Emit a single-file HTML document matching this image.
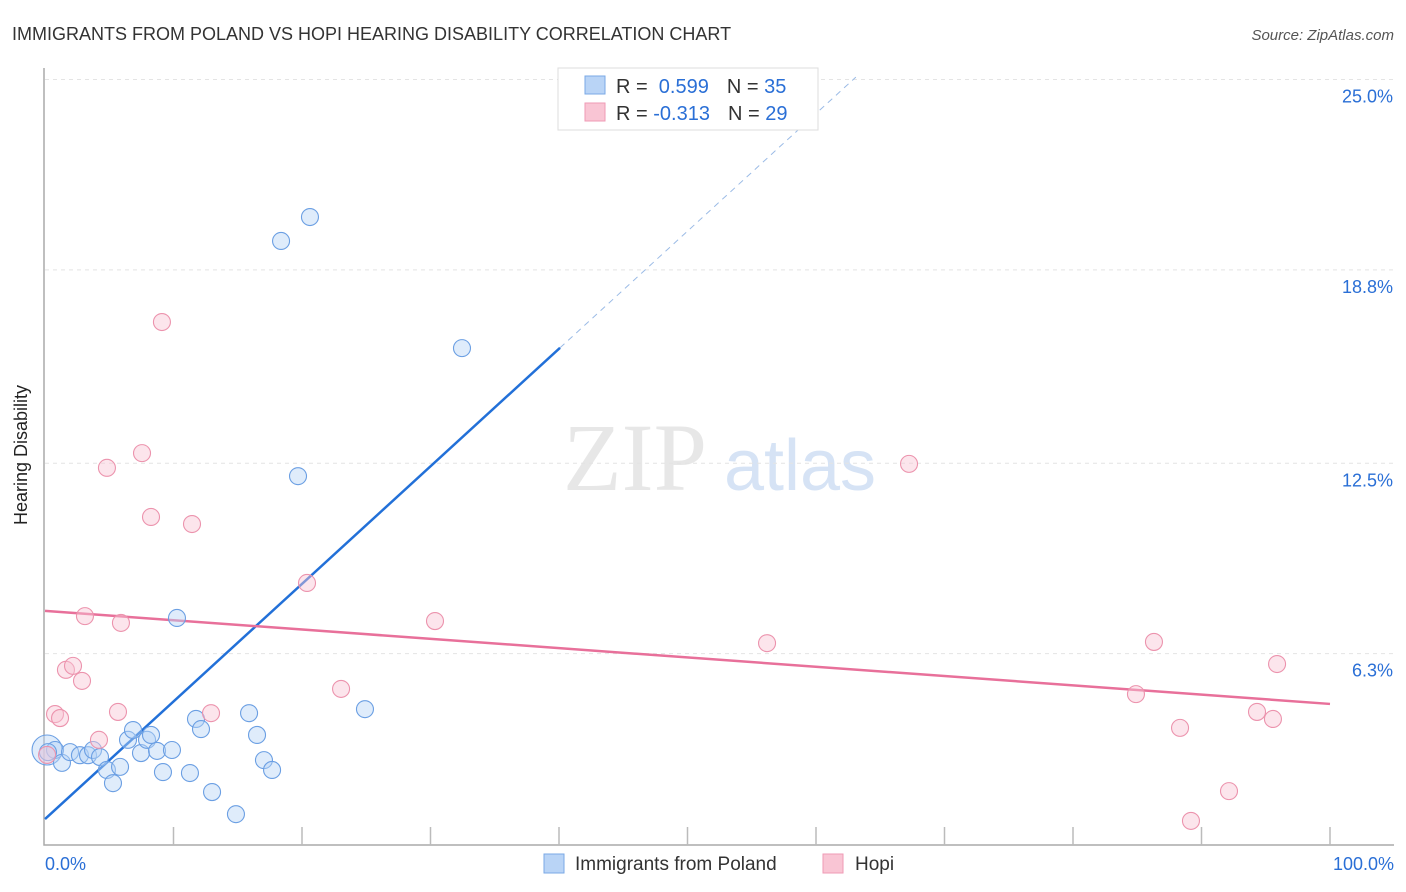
<!DOCTYPE html>
<html><head><meta charset="utf-8"><style>
body{margin:0;background:#fff;font-family:"Liberation Sans",sans-serif;}
</style></head><body>
<svg id="chart" width="1406" height="892" xmlns="http://www.w3.org/2000/svg" style="display:block">
<text x="12" y="40" font-size="18" fill="#333">IMMIGRANTS FROM POLAND VS HOPI HEARING DISABILITY CORRELATION CHART</text>
<text x="1394" y="40" font-size="15" fill="#555" font-style="italic" text-anchor="end">Source: ZipAtlas.com</text>
<g>
<text x="635" y="490" font-size="96" fill="#ddd" text-anchor="middle" font-family="Liberation Serif,serif" opacity="0.7">ZIP</text>
<text x="800" y="490" font-size="72" fill="#c5d8f2" text-anchor="middle" opacity="0.7">atlas</text>
</g>
<g id="grid"></g><g id="axes"></g><g id="lines"></g><g id="points"></g>
<text x="27" y="455" font-size="18" fill="#222" text-anchor="middle" transform="rotate(-90 27 455)">Hearing Disability</text>
<g>
<rect x="558" y="68" width="260" height="62" fill="#fff" stroke="#ddd"/>
<rect x="585" y="76" width="20" height="18" fill="#b9d4f6" stroke="#7aa8e6"/>
<rect x="585" y="103" width="20" height="18" fill="#f9c5d4" stroke="#ef9ab5"/>
<text x="616" y="93" font-size="20" fill="#333">R = <tspan fill="#2a6fd6">&#160;0.599</tspan><tspan dx="18" fill="#333">N = </tspan><tspan fill="#2a6fd6">35</tspan></text>
<text x="616" y="120" font-size="20" fill="#333">R = <tspan fill="#2a6fd6">-0.313</tspan><tspan dx="18" fill="#333">N = </tspan><tspan fill="#2a6fd6">29</tspan></text>
</g>
<g>
<rect x="544" y="854" width="20" height="19" fill="#b9d4f6" stroke="#7aa8e6"/>
<text x="575" y="870" font-size="19" fill="#333">Immigrants from Poland</text>
<rect x="823" y="854" width="20" height="19" fill="#f9c5d4" stroke="#ef9ab5"/>
<text x="855" y="870" font-size="19" fill="#333">Hopi</text>
</g>
</svg>
<script>
const yTicks=[6.3,12.5,18.8,25.0];
const yTickLabels=["6.3%","12.5%","18.8%","25.0%"];
const xTickLabels=["0.0%","100.0%"];
const polandX=[0.16,0.78,1.32,1.95,2.72,3.35,3.74,4.28,4.82,5.29,5.84,6.46,6.85,7.47,7.94,8.25,8.72,9.18,9.88,10.27,11.28,11.75,12.14,13.0,14.86,15.88,16.5,17.04,17.67,18.37,19.69,20.62,24.9,32.45,0.23];
const polandY=[3.16,3.16,2.74,3.09,2.99,2.99,3.16,2.93,2.51,2.08,2.61,3.49,3.81,3.06,3.49,3.65,3.13,2.44,3.16,7.46,2.41,4.17,3.84,1.79,1.07,4.36,3.65,2.83,2.51,19.74,12.08,20.52,4.49,16.25,3.09];
const hopiX=[0.16,0.78,1.17,1.63,2.18,2.88,3.11,4.2,4.82,5.68,5.91,7.55,8.25,9.1,11.44,12.92,20.39,23.04,30.35,56.19,67.24,84.9,86.3,88.33,89.18,92.14,94.32,95.56,95.88];
const hopiY=[3.0,4.33,4.2,5.77,5.9,5.41,7.52,3.49,12.35,4.4,7.3,12.83,10.75,17.1,10.52,4.36,8.6,5.15,7.36,6.64,12.48,4.98,6.68,3.88,0.85,1.82,4.4,4.17,5.96];
const polandTrend=[0.91,0.383];
const hopiTrend=[7.69,-0.0303];
const NS="http://www.w3.org/2000/svg";
const X=v=>45+v*12.85, Y=v=>847-v*30.7;
function mk(t,a,p){const e=document.createElementNS(NS,t);for(const k in a)e.setAttribute(k,a[k]);document.getElementById(p).appendChild(e);return e;}
yTicks.forEach((t,i)=>{
 const g=mk('line',{x1:45,x2:1394,y1:Y(t),y2:Y(t),stroke:'#e4e4e4','stroke-dasharray':'4 4'},'grid');
 
 
 const l=mk('text',{x:1393,y:Y(t)+23,'font-size':18,fill:'#2a6fd6','text-anchor':'end'},'axes');l.textContent=yTickLabels[i];
 
 
});
const ax=mk('path',{d:`M44 68V845H1394`,fill:'none',stroke:'#aaa','stroke-width':1.5},'axes');


for(let i=1;i<=10;i++){const t=mk('line',{x1:X(i*10),x2:X(i*10),y1:827,y2:845,stroke:'#bbb','stroke-width':1.5},'axes');
 
 }
[[0,'start',45],[100,'end',1394]].forEach((d,i)=>{const l=mk('text',{x:d[2],y:870,'font-size':18,fill:'#2a6fd6','text-anchor':d[1]},'axes');l.textContent=xTickLabels[i];
 
 });
function pts(xs,ys,f,s,n){xs.forEach((x,i)=>{const c=mk('circle',{cx:X(x),cy:Y(ys[i]),r:(i==0&&n=='poland-point')?15:8.5,fill:f,'fill-opacity':0.45,stroke:s,'stroke-width':1.1},'points');
 
 });}
pts(polandX,polandY,'#b9d4f6','#6b9fe3','poland-point');
pts(hopiX,hopiY,'#f9c5d4','#ec93ad','hopi-point');
const bx=40.08;
let l1=mk('line',{x1:X(0),y1:Y(polandTrend[0]),x2:X(bx),y2:Y(polandTrend[0]+polandTrend[1]*bx),stroke:'#2270d8','stroke-width':2.5},'lines');


const ex=63.1;
let l2=mk('line',{x1:X(bx),y1:Y(polandTrend[0]+polandTrend[1]*bx),x2:X(ex),y2:Y(polandTrend[0]+polandTrend[1]*ex),stroke:'#9bbbe6','stroke-width':1,'stroke-dasharray':'6 5'},'lines');


let l3=mk('line',{x1:X(0),y1:Y(hopiTrend[0]),x2:X(100),y2:Y(hopiTrend[0]+hopiTrend[1]*100),stroke:'#e8709a','stroke-width':2.5},'lines');


</script>
</body></html>
